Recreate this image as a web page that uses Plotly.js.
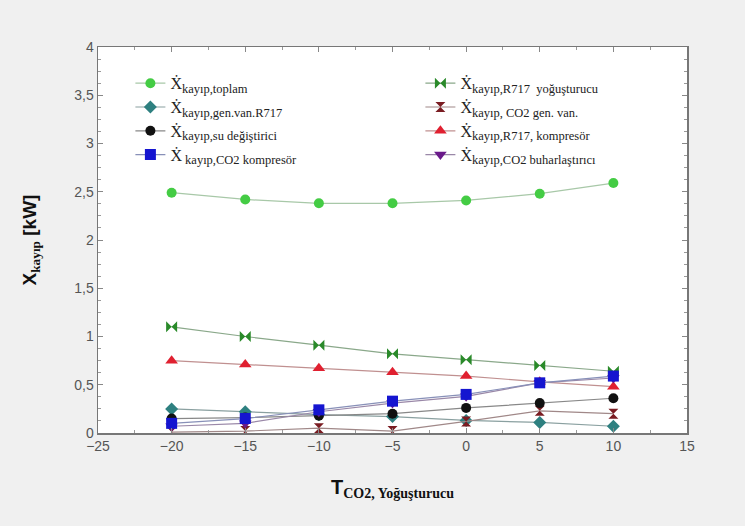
<!DOCTYPE html>
<html><head><meta charset="utf-8">
<script src="https://cdn.plot.ly/plotly-3.0.1.min.js"></script>
<style>body{margin:0;background:#f0f0f0}#c{width:745px;height:526px}</style>
</head><body><div id="c"></div>
<script>
const T = [-20, -15, -10, -5, 0, 5, 10];
const toplam = [2.49, 2.42, 2.38, 2.38, 2.41, 2.48, 2.59];
const r717Yog = [1.10, 1.00, 0.91, 0.82, 0.76, 0.70, 0.64];
const genVanR717 = [0.25, 0.22, 0.19, 0.17, 0.13, 0.11, 0.07];
const co2GenVan = [0.01, 0.02, 0.05, 0.02, 0.12, 0.23, 0.20];
const suDegis = [0.15, 0.16, 0.18, 0.20, 0.26, 0.31, 0.36];
const r717Komp = [0.75, 0.71, 0.67, 0.63, 0.59, 0.53, 0.48];
const co2Komp = [0.10, 0.15, 0.24, 0.33, 0.40, 0.52, 0.59];
const co2Buhar = [0.07, 0.10, 0.22, 0.31, 0.38, 0.52, 0.57];

const subs = [
  'kayıp,toplam',
  'kayıp,R717  yoğuşturucu',
  'kayıp,gen.van.R717',
  'kayıp, CO2 gen. van.',
  'kayıp,su değiştirici',
  'kayıp,R717, kompresör',
  ' kayıp,CO2 kompresör',
  'kayıp,CO2 buharlaştırıcı'
];
const names = subs.map(s => 'Ẋ<sub><span style="font-size:12.5px">' + s + '</span></sub>');

function tr(y, name, rank, mcol, lcol, sym, size){
  return {x: T, y: y, name: name, legendrank: rank, type: 'scatter', mode: 'lines+markers',
    line: {color: lcol, width: 1.2},
    marker: {symbol: sym, color: mcol, size: size, line: {width: 0}}};
}
const data = [
  tr(toplam, names[0], 1, '#44cc44', '#a8c8a8', 'circle', 10),
  tr(r717Yog, names[1], 2, '#2a8a2a', '#8aa88a', 'bowtie', 11),
  tr(genVanR717, names[2], 3, '#2e8080', '#8aa0a0', 'diamond', 10),
  tr(co2GenVan, names[3], 4, '#7a1c22', '#a08888', 'hourglass', 10),
  tr(suDegis, names[4], 5, '#111111', '#888888', 'circle', 10),
  tr(r717Komp, names[5], 6, '#e02030', '#c09090', 'triangle-up', 11),
  tr(co2Buhar, names[7], 8, '#6a1a8a', '#9a88a8', 'triangle-down', 11),
  tr(co2Komp, names[6], 7, '#1515d0', '#8890b8', 'square', 11)
];

const axisCommon = {
  showline: true, mirror: 'ticks', linecolor: '#777', linewidth: 1.5,
  ticks: 'inside', ticklen: 5, tickcolor: '#888', showgrid: false, zeroline: false,
  tickfont: {family: 'Liberation Sans, Arial', size: 14, color: '#555'}
};

const layout = {
  width: 745, height: 526,
  paper_bgcolor: '#f0f0f0', plot_bgcolor: '#ffffff',
  margin: {l: 98, r: 58, t: 47, b: 93},
  separators: ', ',
  showlegend: true,
  legend: {orientation: 'h', x: 0.055, y: 0.95, xanchor: 'left', yanchor: 'top',
    entrywidth: 245, entrywidthmode: 'pixels', bgcolor: 'rgba(0,0,0,0)',
    itemwidth: 30,
    font: {family: 'Liberation Serif, Times New Roman', size: 16, color: '#222'}},
  xaxis: Object.assign({}, axisCommon, {range: [-25, 15], dtick: 5, tick0: -25,
    minor: {ticks: 'inside', ticklen: 3, tickcolor: '#999', dtick: 2.5, showgrid: false},
    title: {text: '<b>T<sub><span style="font-family:Liberation Serif">CO2, Yoğuşturucu</span></sub></b>', standoff: 26,
      font: {family: 'Liberation Sans, Arial', size: 20, color: '#111'}}}),
  yaxis: Object.assign({}, axisCommon, {range: [0, 4], dtick: 0.5,
    minor: {ticks: 'inside', ticklen: 3, tickcolor: '#999', dtick: 0.125, showgrid: false},
    title: {text: '<b>X<sub><span style="font-family:Liberation Serif">kayıp</span></sub> [kW]</b>', standoff: 32,
      font: {family: 'Liberation Sans, Arial', size: 19, color: '#111'}}})
};
Plotly.newPlot('c', data, layout, {displayModeBar: false, staticPlot: true});
</script></body></html>
